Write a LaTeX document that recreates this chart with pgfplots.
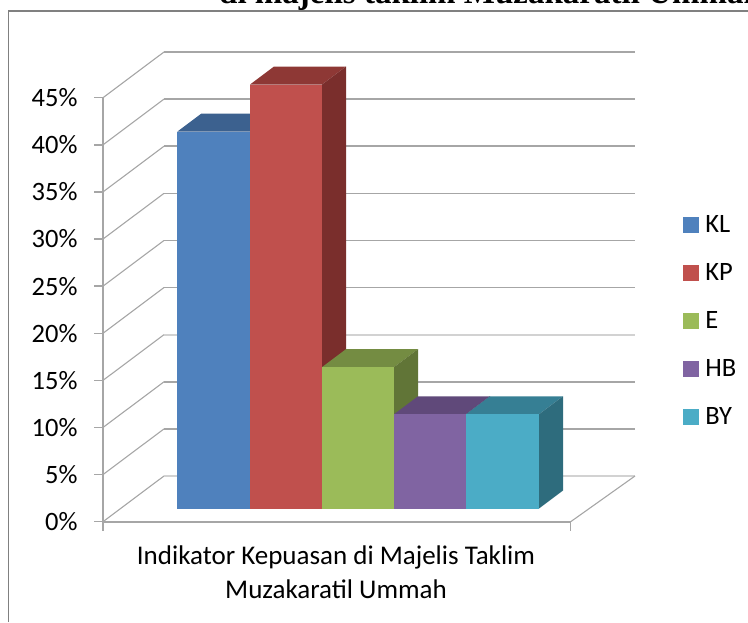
\documentclass[border=0pt]{standalone}
\usepackage{pgfplots}
\pgfplotsset{compat=1.18}
\usepackage{fontspec}
\setmainfont{Carlito}
\newfontfamily\titlefont{Liberation Serif}
\definecolor{gridc}{HTML}{A6A6A6}
\definecolor{kl}{HTML}{4F81BD}\definecolor{klt}{HTML}{3C618F}\definecolor{kls}{HTML}{325176}
\definecolor{kp}{HTML}{C0504D}\definecolor{kpt}{HTML}{8E3835}\definecolor{kps}{HTML}{7A2E2C}
\definecolor{ee}{HTML}{9BBB59}\definecolor{eet}{HTML}{748C42}\definecolor{ees}{HTML}{617537}
\definecolor{hb}{HTML}{8064A2}\definecolor{hbt}{HTML}{60497A}\definecolor{hbs}{HTML}{503D66}
\definecolor{by}{HTML}{4BACC6}\definecolor{byt}{HTML}{367F94}\definecolor{bys}{HTML}{2E6C7D}
\begin{document}
\begin{tikzpicture}[x=1pt,y=1pt]
\path[use as bounding box] (0,0) rectangle (748,622);
\clip (0,0) rectangle (748,622);
\node[anchor=base west,inner sep=0pt,font={\titlefont\bfseries\fontsize{33}{38}\selectfont}] at (219,618) {di majelis taklim Muzakaratil Ummah};
\draw[color=gray,line width=1.3pt] (8.5,0) -- (8.5,611) -- (748,611);
\begin{axis}[
  at={(103pt,100.3pt)},anchor=south west,
  width=467.7pt,height=424pt,scale only axis,
  xmin=103,xmax=570.7,ymin=0,ymax=45,
  clip=false,
  axis x line=bottom,axis y line=left,
  axis line style={draw=gridc,line width=1.8pt,-},
  xtick={103,570.7},xticklabels={},
  ytick={0,5,...,45},
  yticklabel={\pgfmathprintnumber{\tick}\%},
  /pgf/number format/assume math mode=true,
  yticklabel style={font=\fontsize{26.5}{30}\selectfont,xshift=-13pt},
  tick style={draw=gridc,line width=1.4pt},
  major tick length=9pt,
  tick align=outside,
  legend cell align=left,
  legend image code/.code={\fill[#1] (0pt,-3.5pt) rectangle (15pt,11.5pt);\path[draw=none,fill=none] (0pt,0pt) -- (21pt,0pt);},
  legend style={draw=none,fill=none,at={(axis cs:683,32.4)},anchor=north west,
    font=\fontsize{26.5}{30}\selectfont,row sep=25.8pt,inner sep=0pt,
    nodes={inner sep=1pt,text height=14pt,text depth=5pt}},
  lift/.style={yshift=13.2pt,draw=none,forget plot},
  gl/.style={draw=gridc,line width=1.5pt,forget plot},
]
% walls and floor
\addplot[gl,line width=1.1pt] coordinates {(103,0)(164,4.85)};
\addplot[gl,draw=gridc!50,line width=2pt] coordinates {(164,4.85)(635,4.85)};
\addplot[gl,line width=1.1pt] coordinates {(103,5)(164,9.85)};
\addplot[gl] coordinates {(164,9.85)(635,9.85)};
\addplot[gl,line width=1.1pt] coordinates {(103,10)(164,14.85)};
\addplot[gl] coordinates {(164,14.85)(635,14.85)};
\addplot[gl,line width=1.1pt] coordinates {(103,15)(164,19.85)};
\addplot[gl,draw=gridc!50,line width=2pt] coordinates {(164,19.85)(635,19.85)};
\addplot[gl,line width=1.1pt] coordinates {(103,20)(164,24.85)};
\addplot[gl] coordinates {(164,24.85)(635,24.85)};
\addplot[gl,line width=1.1pt] coordinates {(103,25)(164,29.85)};
\addplot[gl] coordinates {(164,29.85)(635,29.85)};
\addplot[gl,line width=1.1pt] coordinates {(103,30)(164,34.85)};
\addplot[gl] coordinates {(164,34.85)(635,34.85)};
\addplot[gl,line width=1.1pt] coordinates {(103,35)(164,39.85)};
\addplot[gl] coordinates {(164,39.85)(635,39.85)};
\addplot[gl,line width=1.1pt] coordinates {(103,40)(164,44.85)};
\addplot[gl] coordinates {(164,44.85)(635,44.85)};
\addplot[gl,line width=1.1pt] coordinates {(103,45)(164,49.85)};
\addplot[gl] coordinates {(164,49.85)(635,49.85)};
\addplot[gl,line width=1.1pt] coordinates {(570.7,0)(635,4.85)};
% KL = 40
\addplot[lift,fill=klt] coordinates {(177.3,40)(250,40)(274,41.91)(201.3,41.91)} --cycle;
\addplot[lift,fill=kls] coordinates {(250,0)(274,1.91)(274,41.91)(250,40)} --cycle;
\addplot[lift,fill=kl] coordinates {(177.3,0)(250,0)(250,40)(177.3,40)} --cycle;
% KP = 45
\addplot[lift,fill=kpt] coordinates {(250,45)(322,45)(346,46.91)(274,46.91)} --cycle;
\addplot[lift,fill=kps] coordinates {(322,0)(346,1.91)(346,46.91)(322,45)} --cycle;
\addplot[lift,fill=kp] coordinates {(250,0)(322,0)(322,45)(250,45)} --cycle;
% E = 15
\addplot[lift,fill=eet] coordinates {(322,15)(394,15)(418,16.91)(346,16.91)} --cycle;
\addplot[lift,fill=ees] coordinates {(394,0)(418,1.91)(418,16.91)(394,15)} --cycle;
\addplot[lift,fill=ee] coordinates {(322,0)(394,0)(394,15)(322,15)} --cycle;
% HB = 10
\addplot[lift,fill=hbt] coordinates {(394,10)(466,10)(490,11.91)(418,11.91)} --cycle;
\addplot[lift,fill=hbs] coordinates {(466,0)(490,1.91)(490,11.91)(466,10)} --cycle;
\addplot[lift,fill=hb] coordinates {(394,0)(466,0)(466,10)(394,10)} --cycle;
% BY = 10
\addplot[lift,fill=byt] coordinates {(466,10)(539,10)(563,11.91)(490,11.91)} --cycle;
\addplot[lift,fill=bys] coordinates {(539,0)(563,1.91)(563,11.91)(539,10)} --cycle;
\addplot[lift,fill=by] coordinates {(466,0)(539,0)(539,10)(466,10)} --cycle;
\addlegendimage{kl}\addlegendentry{KL}
\addlegendimage{kp}\addlegendentry{KP}
\addlegendimage{ee}\addlegendentry{E}
\addlegendimage{hb}\addlegendentry{HB}
\addlegendimage{by}\addlegendentry{BY}
\node[align=center,font=\fontsize{27}{34}\selectfont,anchor=north] at (axis cs:336,-2.2) {Indikator Kepuasan di Majelis Taklim\\Muzakaratil Ummah};
\end{axis}
\end{tikzpicture}
\end{document}
